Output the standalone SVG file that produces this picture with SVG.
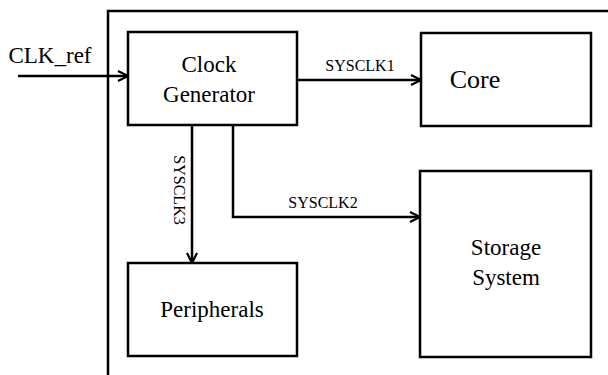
<svg xmlns="http://www.w3.org/2000/svg" width="608" height="375" viewBox="0 0 608 375">
<defs>
<style>
.box{fill:#fff;stroke:#000;stroke-width:2.5}
.frame{fill:none;stroke:#000;stroke-width:2.5}
.wire{fill:none;stroke:#000;stroke-width:2.5}
text{font-family:'Liberation Serif','DejaVu Serif',serif;fill:#000;text-anchor:middle}
.lbl{font-size:23px}
.sig{font-size:16px}
</style>
<marker id="arr" viewBox="0 0 12 12" refX="11" refY="6" markerWidth="12" markerHeight="12" markerUnits="userSpaceOnUse" orient="auto">
<path d="M1,1 L11,6 L1,11" fill="none" stroke="#000" stroke-width="2.2"/>
</marker>
</defs>
<path class="frame" d="M108,375 L108,11 L608,11"/>
<g id="clock-generator">
<rect class="box" x="128" y="32" width="169" height="93"/>
<text class="lbl" x="209" y="72" font-family="Liberation Serif, serif">Clock</text>
<text class="lbl" x="209" y="102" font-family="Liberation Serif, serif">Generator</text>
</g>
<g id="core">
<rect class="box" x="421" y="33" width="170" height="93"/>
<text class="lbl" x="475" y="88" font-family="Liberation Serif, serif" style="font-size:26px">Core</text>
</g>
<g id="storage-system">
<rect class="box" x="420" y="171" width="171" height="186"/>
<text class="lbl" x="506" y="255" font-family="Liberation Serif, serif">Storage</text>
<text class="lbl" x="506" y="285" font-family="Liberation Serif, serif">System</text>
</g>
<g id="peripherals">
<rect class="box" x="128" y="263" width="169" height="93"/>
<text class="lbl" x="212" y="317" font-family="Liberation Serif, serif">Peripherals</text>
</g>
<g id="connectors">
<line class="wire" x1="18" y1="76" x2="128" y2="76" marker-end="url(#arr)"/>
<text class="lbl" x="50" y="63" font-family="Liberation Serif, serif">CLK_ref</text>
<line class="wire" x1="297" y1="80" x2="421" y2="80" marker-end="url(#arr)"/>
<text class="sig" x="360" y="71" font-family="Liberation Serif, serif">SYSCLK1</text>
<polyline class="wire" points="233,125 233,217 420,217" marker-end="url(#arr)"/>
<text class="sig" x="323" y="208" font-family="Liberation Serif, serif">SYSCLK2</text>
<line class="wire" x1="192" y1="125" x2="192" y2="263" marker-end="url(#arr)"/>
<text class="sig" transform="translate(174,190) rotate(90)" font-family="Liberation Serif, serif">SYSCLK3</text>
</g>
</svg>
